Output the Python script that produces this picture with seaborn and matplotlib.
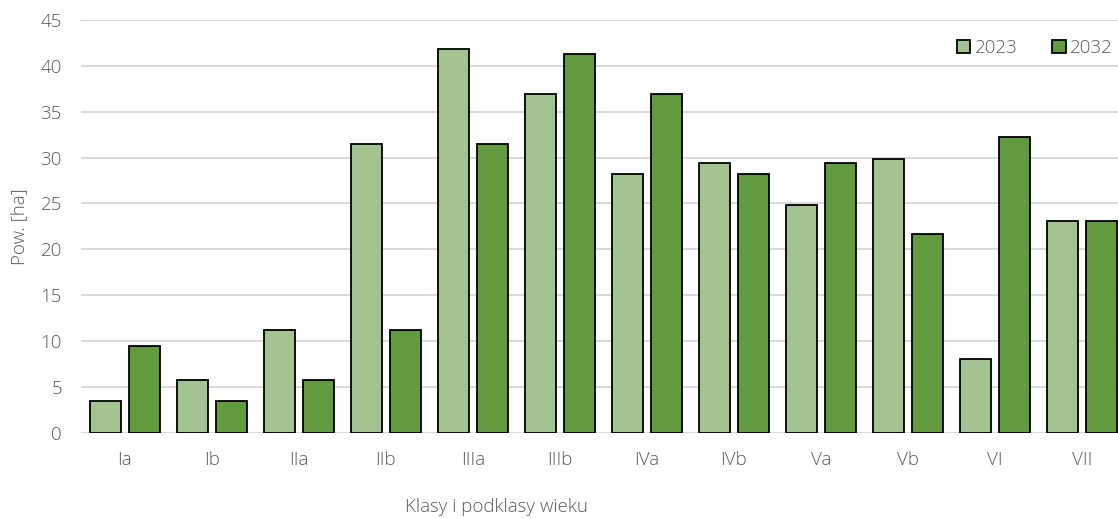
import matplotlib
matplotlib.use("Agg")
import matplotlib.pyplot as plt
from matplotlib.patches import Patch
import pandas as pd
import seaborn as sns

# Age classes and sub-classes
klasy = ["Ia", "Ib", "IIa", "IIb", "IIIa", "IIIb", "IVa", "IVb", "Va", "Vb", "VI", "VII"]
# Area [ha] per class
pow_2023 = [3.4, 5.7, 11.2, 31.5, 41.9, 37.0, 28.2, 29.4, 24.8, 29.9, 8.0, 23.1]
pow_2032 = [9.4, 3.4, 5.7, 11.2, 31.5, 41.3, 37.0, 28.2, 29.4, 21.7, 32.3, 23.1]
lata = ["2023", "2032"]
y_ticks = [0, 5, 10, 15, 20, 25, 30, 35, 40, 45]

KOLORY = ["#A3C490", "#629A3E"]
SZARY = "#595959"
ROZMIAR = 13.5
WAGA = "light"

df = pd.DataFrame({
    "klasa": klasy * 2,
    "pow": pow_2023 + pow_2032,
    "rok": [lata[0]] * len(klasy) + [lata[1]] * len(klasy),
})

sns.set_theme(style="white")
plt.rcParams["font.family"] = ["Open Sans", "DejaVu Sans"]

W, H = 1118, 518
fig = plt.figure(figsize=(W / 100, H / 100), dpi=100)
x0, x1 = 81.4 / W, 1125.4 / W
y0, y1 = 1 - 432.5 / H, 1 - 20.3 / H
ax = fig.add_axes([x0, y0, x1 - x0, y1 - y0])

sns.barplot(data=df, x="klasa", y="pow", hue="rok", order=klasy, hue_order=lata,
            palette=KOLORY, saturation=1, width=0.89, gap=0.2, edgecolor="black",
            linewidth=1.3, ax=ax, legend=False, zorder=3)

ax.set_xlim(-0.5, len(klasy) - 0.5)
ax.set_ylim(0, 45)
ax.set_yticks(y_ticks)
ax.yaxis.grid(True, color="#D9D9D9", linewidth=1.4, zorder=0)
ax.xaxis.grid(False)
ax.set_axisbelow(True)
for s in ax.spines.values():
    s.set_visible(False)

ax.tick_params(axis="both", length=0, labelsize=ROZMIAR, labelcolor=SZARY)
ax.tick_params(axis="y", pad=14)
ax.tick_params(axis="x", pad=13)
for lbl in ax.get_xticklabels() + ax.get_yticklabels():
    lbl.set_fontweight(WAGA)

ax.set_xlabel("")
ax.set_ylabel("")
fig.text(19 / W, 1 - 227 / H, "Pow. [ha]", rotation=90, ha="center", va="center",
         fontsize=ROZMIAR, color=SZARY, fontweight=WAGA)
fig.text(496 / W, 1 - 507 / H, "Klasy i podklasy wieku", ha="center", va="center",
         fontsize=ROZMIAR, color=SZARY, fontweight=WAGA)

uchwyty = [Patch(facecolor=c, edgecolor="black", linewidth=1.3) for c in KOLORY]
leg = fig.legend(uchwyty, lata, loc="center left", bbox_to_anchor=(957 / W, 1 - 48 / H),
                 ncol=2, frameon=False, fontsize=ROZMIAR, handlelength=0.7, handleheight=0.7,
                 handletextpad=0.25, columnspacing=1.85, borderpad=0, borderaxespad=0)
for t in leg.get_texts():
    t.set_color(SZARY)
    t.set_fontweight(WAGA)

fig.savefig("out.png", dpi=100)
